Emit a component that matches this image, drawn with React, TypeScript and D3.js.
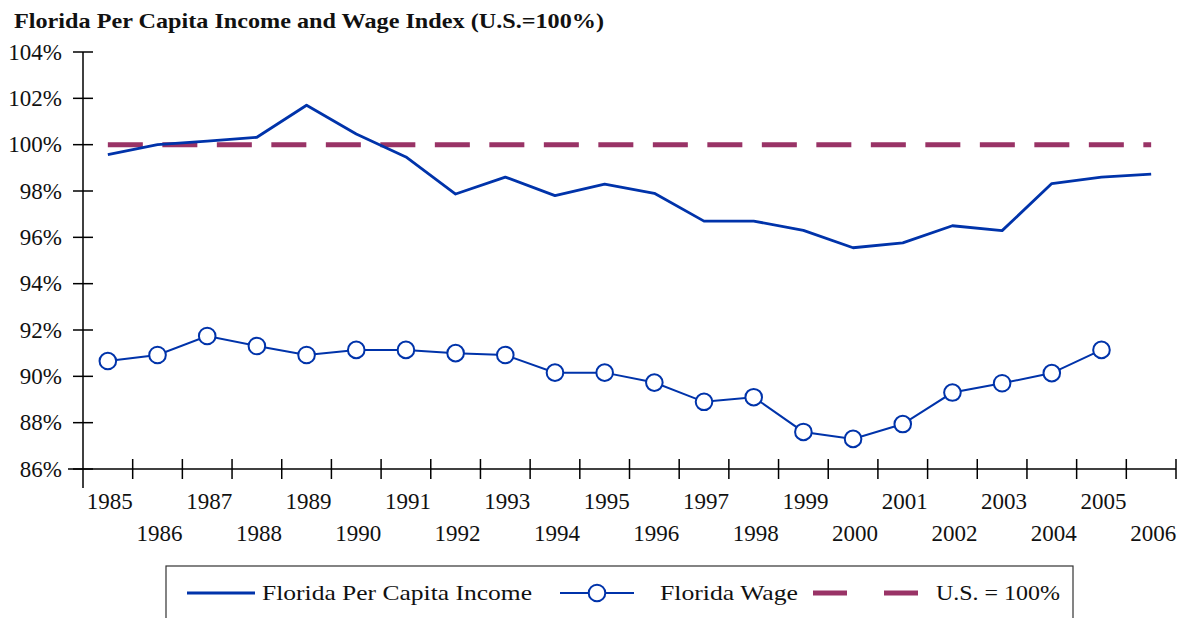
import React from "react";
import * as d3 from "d3";

const years = [1985,1986,1987,1988,1989,1990,1991,1992,1993,1994,1995,1996,1997,1998,1999,2000,2001,2002,2003,2004,2005,2006];
const incomeValues = [99.57,100.0,100.15,100.32,101.7,100.46,99.47,97.87,98.6,97.8,98.3,97.9,96.7,96.7,96.3,95.55,95.76,96.5,96.29,98.32,98.6,98.73];
const wageValues = [90.66,90.92,91.74,91.31,90.92,91.14,91.14,91.0,90.92,90.16,90.16,89.73,88.9,89.1,87.6,87.3,87.94,89.3,89.7,90.14,91.14];
const usValue = 100;
const yTicks = [86,88,90,92,94,96,98,100,102,104];
const title = "Florida Per Capita Income and Wage Index (U.S.=100%)";
const legendLabels = ["Florida Per Capita Income", "Florida Wage", "U.S. = 100%"];

const BLUE = "#0033aa";
const PLUM = "#993366";
const FONT = "'Liberation Serif', 'Times New Roman', serif";

export default function App() {
  const W = 1183, H = 618;
  const left = 83, right = 1176, top = 52, bottom = 469;
  const x = d3.scaleBand<number>().domain(years).range([left, right]).padding(0);
  const y = d3.scaleLinear().domain([86, 104]).range([bottom, top]);
  const cx = (yr: number) => (x(yr) as number) + x.bandwidth() / 2;

  const line = d3.line<[number, number]>().x(d => d[0]).y(d => d[1]);
  const incomePts: [number, number][] = incomeValues.map((v, i) => [cx(years[i]), y(v)]);
  const wagePts: [number, number][] = wageValues.map((v, i) => [cx(years[i]), y(v)]);
  const usPts: [number, number][] = [[cx(years[0]), y(usValue)], [cx(years[years.length - 1]), y(usValue)]];

  const boundaries = years.map(yr => (x(yr) as number) + x.bandwidth());

  return (
    <svg width={W} height={H} style={{ position: "absolute", left: 0, top: 0, background: "#fff" }} fontFamily={FONT}>
      <rect x={0} y={0} width={W} height={H} fill="#fff" />
      <text x={14} y={28} fontSize={21} fontWeight="bold" fill="#111" textLength={590} lengthAdjust="spacingAndGlyphs">{title}</text>

      {/* y axis */}
      <line x1={left} x2={left} y1={top} y2={488} stroke="#000" strokeWidth={1.5} />
      {yTicks.map(t => (
        <g key={t}>
          <line x1={left - 10} x2={left + 10} y1={y(t)} y2={y(t)} stroke="#000" strokeWidth={1.5} />
          <text x={62} y={y(t) + 7.5} fontSize={23} textAnchor="end" fill="#111">{t}%</text>
        </g>
      ))}

      {/* x axis */}
      <line x1={68} x2={right} y1={bottom} y2={bottom} stroke="#000" strokeWidth={1.5} />
      {boundaries.map((b, i) => (
        <line key={i} x1={b} x2={b} y1={bottom - 10} y2={bottom + 10} stroke="#000" strokeWidth={1.5} />
      ))}
      {years.map((yr, i) => (
        <text key={yr} x={cx(yr) + 2} y={i % 2 === 0 ? 509 : 541} fontSize={23} textAnchor="middle" fill="#111">{yr}</text>
      ))}

      {/* US line */}
      <path d={line(usPts) || ""} stroke={PLUM} strokeWidth={5} strokeDasharray="35 19.5" fill="none" />
      {/* income */}
      <path d={line(incomePts) || ""} stroke={BLUE} strokeWidth={2.8} fill="none" strokeLinejoin="round" />
      {/* wage */}
      <path d={line(wagePts) || ""} stroke={BLUE} strokeWidth={2} fill="none" />
      {wagePts.map((p, i) => (
        <circle key={i} cx={p[0]} cy={p[1]} r={8.3} fill="#fff" stroke={BLUE} strokeWidth={2} />
      ))}

      {/* legend */}
      <rect x={166} y={566} width={907} height={70} fill="#fff" stroke="#333" strokeWidth={1.2} />
      <line x1={187} x2={255} y1={593} y2={593} stroke={BLUE} strokeWidth={2.8} />
      <text x={262} y={600} fontSize={22} fill="#111" textLength={270} lengthAdjust="spacingAndGlyphs">{legendLabels[0]}</text>
      <line x1={560} x2={634} y1={593} y2={593} stroke={BLUE} strokeWidth={2} />
      <circle cx={597} cy={593} r={8.3} fill="#fff" stroke={BLUE} strokeWidth={2} />
      <text x={660} y={600} fontSize={22} fill="#111" textLength={138} lengthAdjust="spacingAndGlyphs">{legendLabels[1]}</text>
      <line x1={813} x2={918} y1={593} y2={593} stroke={PLUM} strokeWidth={5} strokeDasharray="34 37" />
      <text x={936} y={600} fontSize={22} fill="#111" textLength={124} lengthAdjust="spacingAndGlyphs">{legendLabels[2]}</text>
    </svg>
  );
}
